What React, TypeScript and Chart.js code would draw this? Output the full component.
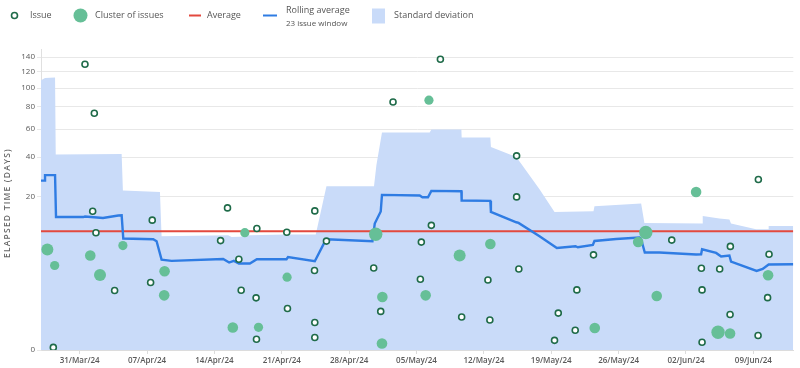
import React, { useEffect, useRef } from 'react';
import { Chart, registerables } from 'chart.js';

Chart.register(...registerables);

// ---- Data (days since 31/Mar/24 on x; elapsed days on y) ----
const xTickDays = [0, 7, 14, 21, 28, 35, 42, 49, 56, 63, 70];
const xTickLabels = [
  '31/Mar/24', '07/Apr/24', '14/Apr/24', '21/Apr/24', '28/Apr/24', '05/May/24',
  '12/May/24', '19/May/24', '26/May/24', '02/Jun/24', '09/Jun/24',
];
const yTickValues = [0, 20, 40, 60, 80, 100, 120, 140];
const yAxisTitle = 'ELAPSED TIME (DAYS)';
const xMin = -4.02;
const xMax = 74.15;
const yMax = 152;
const averageValue = 9.34;

const issueDays = [
  0.55, 1.52, 1.35, 1.69, 3.63, -2.74, 7.54, 7.37, 15.36, 14.64, 18.41, 16.54, 16.78, 18.33,
  18.37, 21.52, 21.59, 37.48, 32.56, 45.4, 45.4, 24.43, 36.54, 25.64, 35.5, 30.55, 24.4,
  45.63, 35.4, 42.42, 31.28, 39.69, 42.62, 24.43, 24.43, 70.52, 61.52, 67.61, 53.39, 71.63,
  64.6, 66.5, 51.66, 64.67, 71.48, 49.73, 67.58, 51.49, 70.49, 49.34, 64.67,
];
const issueValues = [
  130, 74, 14.9, 9.0, 1.17, 0.0001, 12.2, 1.71, 16.0, 7.3, 10.0, 4.17, 1.19, 0.79,
  0.007, 9.1, 0.4, 137, 85, 40.8, 20.0, 15.0, 10.8, 7.2, 7.0, 3.08, 2.8,
  2.97, 1.97, 1.91, 0.32, 0.2, 0.15, 0.115, 0.011, 27.6, 7.4, 6.2, 4.8, 4.9,
  3.04, 2.97, 1.21, 1.21, 0.8, 0.28, 0.25, 0.043, 0.017, 0.005, 0.0026,
];

const clusterDays = [
  -3.36, -2.6, 1.1, 2.11, 4.49, 8.82, 8.78, 15.91, 18.58, 17.16, 21.55, 36.29, 30.76,
  39.48, 42.67, 31.45, 35.95, 31.41, 64.05, 58.82, 58.03, 71.53, 59.96, 53.52, 66.33, 67.58,
];
const clusterValues = [
  5.65, 3.36, 4.7, 2.35, 6.35, 2.72, 0.91, 0.063, 0.065, 9.0, 2.15, 86.9, 8.65,
  4.7, 6.65, 0.83, 0.91, 0.0015, 22.0, 9.03, 7.03, 2.33, 0.88, 0.059, 0.031, 0.025,
];
const clusterCounts = [
  4, 2, 3, 4, 2, 3, 3, 3, 2, 2, 2, 2, 5,
  4, 3, 3, 3, 3, 3, 5, 3, 3, 3, 3, 5, 3,
];

const rollingDays = [
  -4.02, -3.6, -3.6, -2.56, -2.46, 0.37, 0.55, 2.42, 4.01, 4.36, 4.53, 7.64, 7.99, 8.51,
  9.55, 14.91, 15.53, 16.02, 16.54, 17.68, 18.41, 21.49, 21.65, 24.43, 25.46, 25.64, 30.42,
  30.66, 31.28, 31.41, 35.33, 35.61, 36.19, 36.54, 39.66, 39.69, 42.67, 42.73, 45.37, 45.6,
  47.78, 49.58, 51.52, 51.76, 53.32, 53.49, 55.75, 58.17, 58.34, 58.72, 60.24, 64.05, 64.57,
  64.67, 66.13, 66.65, 67.51, 67.68, 70.34, 70.97, 71.59, 74.15,
];
const rollingValues = [
  27.1, 27.1, 29.8, 29.8, 13.1, 13.1, 13.25, 12.84, 13.55, 13.6, 7.72, 7.57, 7.17, 4.12,
  3.94, 4.21, 3.73, 3.94, 3.6, 3.6, 4.17, 4.17, 4.49, 3.9, 7.03, 7.57, 7.17,
  11.27, 14.8, 20.8, 20.55, 19.88, 19.88, 22.44, 22.31, 18.61, 18.47, 14.67, 11.62, 11.44,
  8.21, 5.92, 6.23, 6.05, 6.46, 7.23, 7.63, 7.93, 7.57, 5.16, 5.16, 4.85, 4.89,
  5.7, 5.1, 4.55, 4.7, 3.86, 2.75, 2.97, 3.48, 3.51,
];

const stdDays = [
  -4.02, -3.6, -2.56, -2.49, 4.36, 4.49, 8.34, 8.51, 15.43, 15.78, 16.64, 17.68, 21.52,
  24.53, 25.64, 30.58, 30.83, 31.41, 36.37, 36.54, 39.66, 39.69, 42.67, 42.73, 45.37, 47.78,
  49.34, 53.39, 53.49, 58.34, 58.68, 64.67, 64.74, 66.47, 67.51, 67.68, 70.28, 71.53, 71.59,
  74.15,
];
const stdUpper = [
  109.5, 112.3, 112.8, 41.65, 42.04, 22.61, 22.02, 8.21, 8.42, 8.06, 8.1, 8.42, 8.58,
  8.58, 24.49, 24.49, 35.18, 57.37, 57.37, 59.77, 59.77, 53.5, 53.5, 46.7, 40.14, 23.17,
  14.67, 14.9, 16.57, 17.52, 11.44, 11.27, 13.43, 12.67, 12.38, 11.27, 9.82, 9.82, 10.65,
  10.65,
];

// ---- Styling ----
const FONT = "'Open Sans', 'Noto Sans', sans-serif";
const ISSUE_STROKE = '#1f6b49';
const CLUSTER_FILL = '#66bf97';
const AVG_COLOR = '#e3493e';
const ROLL_COLOR = '#2f7ce3';
const BAND_COLOR = '#c9dbf9';
const TEXT_COLOR = '#555';

const tr = (v: number) => Math.cbrt(v);

const legendPlugin = {
  id: 'customLegend',
  afterDraw(chart: any) {
    const ctx: any = chart.ctx;
    ctx.save();
    const cy = 15.5;
    ctx.textBaseline = 'middle';
    ctx.textAlign = 'left';
    ctx.fillStyle = TEXT_COLOR;
    ctx.font = `9px ${FONT}`;

    // Issue
    ctx.beginPath();
    ctx.arc(14.5, cy, 3, 0, Math.PI * 2);
    ctx.fillStyle = '#fff';
    ctx.fill();
    ctx.lineWidth = 1.6;
    ctx.strokeStyle = ISSUE_STROKE;
    ctx.stroke();
    ctx.fillStyle = TEXT_COLOR;
    ctx.fillText('Issue', 30, cy);

    // Cluster
    ctx.beginPath();
    ctx.arc(80.5, cy, 7, 0, Math.PI * 2);
    ctx.fillStyle = CLUSTER_FILL;
    ctx.fill();
    ctx.fillStyle = TEXT_COLOR;
    ctx.fillText('Cluster of issues', 95, cy);

    // Average
    ctx.beginPath();
    ctx.moveTo(189, cy);
    ctx.lineTo(201, cy);
    ctx.lineWidth = 2;
    ctx.strokeStyle = AVG_COLOR;
    ctx.stroke();
    ctx.fillText('Average', 207, cy);

    // Rolling average
    ctx.beginPath();
    ctx.moveTo(263, cy);
    ctx.lineTo(277, cy);
    ctx.lineWidth = 2;
    ctx.strokeStyle = ROLL_COLOR;
    ctx.stroke();
    ctx.fillText('Rolling average', 286, 10);
    ctx.font = `8px ${FONT}`;
    ctx.fillText('23 issue window', 286, 23.5);

    // Standard deviation
    ctx.fillStyle = BAND_COLOR;
    ctx.fillRect(372, 8.5, 13, 15);
    ctx.fillStyle = TEXT_COLOR;
    ctx.font = `9px ${FONT}`;
    ctx.fillText('Standard deviation', 394, cy);

    // Y-axis title
    ctx.translate(8, 203);
    ctx.rotate(-Math.PI / 2);
    ctx.textAlign = 'center';
    ctx.font = `600 8.5px ${FONT}`;
    ctx.fillStyle = '#666';
    try { ctx.letterSpacing = '1.2px'; } catch (e) { /* ignore */ }
    ctx.fillText(yAxisTitle, 0, 0);
    ctx.restore();
  },
};

export default function App() {
  const ref = useRef<HTMLCanvasElement | null>(null);

  useEffect(() => {
    if (!ref.current) return;
    const issues = issueDays.map((d, i) => ({ x: d, y: tr(issueValues[i]) }));
    const clusters = clusterDays.map((d, i) => ({ x: d, y: tr(clusterValues[i]) }));
    const clusterRadii = clusterCounts.map((c) => 3.2 + c * 0.7);
    const rolling = rollingDays.map((d, i) => ({ x: d, y: tr(rollingValues[i]) }));
    const band = stdDays.map((d, i) => ({ x: d, y: tr(stdUpper[i]) }));
    const avg = [
      { x: xMin, y: tr(averageValue) },
      { x: xMax, y: tr(averageValue) },
    ];

    const chart = new Chart(ref.current, {
      type: 'scatter',
      data: {
        datasets: [
          {
            type: 'scatter',
            label: 'Issue',
            data: issues,
            pointRadius: 3,
            pointBorderWidth: 1.6,
            pointBorderColor: ISSUE_STROKE,
            pointBackgroundColor: '#ffffff',
            order: 0,
          } as any,
          {
            type: 'scatter',
            label: 'Cluster of issues',
            data: clusters,
            pointRadius: clusterRadii,
            pointBorderWidth: 0,
            pointBackgroundColor: CLUSTER_FILL,
            pointBorderColor: CLUSTER_FILL,
            order: 1,
          } as any,
          {
            type: 'line',
            label: 'Rolling average',
            data: rolling,
            borderColor: ROLL_COLOR,
            borderWidth: 2.4,
            pointRadius: 0,
            fill: false,
            tension: 0,
            showLine: true,
            order: 2,
          } as any,
          {
            type: 'line',
            label: 'Average',
            data: avg,
            borderColor: AVG_COLOR,
            borderWidth: 2,
            pointRadius: 0,
            fill: false,
            showLine: true,
            order: 3,
          } as any,
          {
            type: 'line',
            label: 'Standard deviation',
            data: band,
            borderWidth: 0,
            borderColor: BAND_COLOR,
            backgroundColor: BAND_COLOR,
            pointRadius: 0,
            fill: 'origin',
            tension: 0,
            showLine: true,
            order: 4,
          } as any,
        ],
      },
      options: {
        responsive: false,
        animation: false,
        events: [],
        layout: { padding: { top: 49, right: 6, left: 0, bottom: 0 } },
        plugins: {
          legend: { display: false },
          tooltip: { enabled: false },
        },
        scales: {
          x: {
            type: 'linear',
            min: xMin,
            max: xMax,
            afterBuildTicks: (scale: any) => {
              scale.ticks = xTickDays.map((v) => ({ value: v }));
            },
            afterFit: (scale: any) => {
              scale.height = 18;
            },
            ticks: {
              autoSkip: false,
              maxRotation: 0,
              padding: 2,
              color: '#5a5a5a',
              font: { family: FONT, size: 8, weight: '600' },
              callback: (_v: any, i: number) => xTickLabels[i],
            },
            grid: {
              drawOnChartArea: false,
              drawTicks: true,
              tickLength: 4,
              color: '#dcdcdc',
            },
            border: { display: true, color: '#dcdcdc' },
          },
          y: {
            type: 'linear',
            min: 0,
            max: tr(yMax),
            afterBuildTicks: (scale: any) => {
              scale.ticks = yTickValues.map((v) => ({ value: tr(v) }));
            },
            afterFit: (scale: any) => {
              scale.width = 41;
            },
            ticks: {
              autoSkip: false,
              padding: 2,
              color: '#5a5a5a',
              font: { family: FONT, size: 8 },
              callback: (_v: any, i: number) => String(yTickValues[i]),
            },
            grid: {
              color: '#e8e8e8',
              tickLength: 4,
            },
            border: { display: true, color: '#e0e0e0' },
          },
        },
      },
      plugins: [legendPlugin],
    } as any);

    return () => chart.destroy();
  }, []);

  return (
    <div style={{ position: 'fixed', left: 0, top: 0, width: 800, height: 368, background: '#fff' }}>
      <canvas ref={ref} width={800} height={368} style={{ display: 'block', width: 800, height: 368 }} />
    </div>
  );
}
